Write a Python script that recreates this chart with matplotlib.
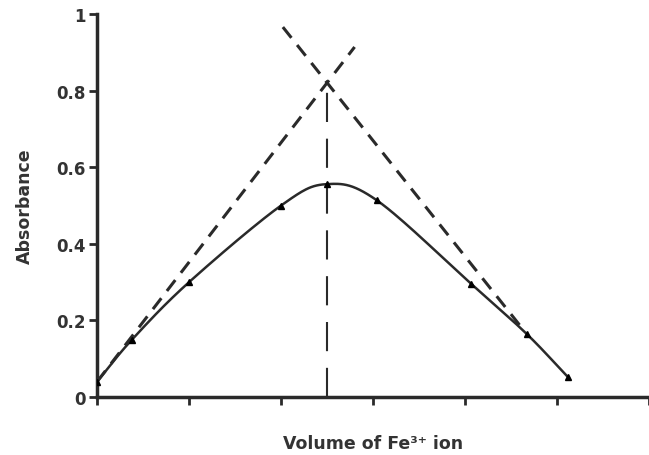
import numpy as np
import matplotlib
matplotlib.use("Agg")
import matplotlib.pyplot as plt

plt.rcParams['font.family'] = ['DejaVu Sans']

# measured absorbance points
volume = [0.0, 0.38, 1.0, 2.0, 2.5, 3.04, 4.07, 4.67, 5.12]
absorbance = [0.04, 0.15, 0.30, 0.50, 0.556, 0.514, 0.295, 0.165, 0.052]

# extrapolated tangent lines (start, end)
left_x = [0.0, 2.8]
left_y = [0.04, 0.914]
right_x = [2.02, 4.62]
right_y = [0.966, 0.18]
eq_x = 2.5
eq_y = 0.82

y_ticks = [0, 0.2, 0.4, 0.6, 0.8, 1]
y_labels = ['0', '0.2', '0.4', '0.6', '0.8', '1']
x_ticks = [0, 1, 2, 3, 4, 5, 6]

ink = '#2a2a2a'


def catmull_rom(xs, ys, n=30):
    # smooth curve through the points, like the spline in the original
    p = np.column_stack([xs, ys])
    p = np.vstack([2 * p[0] - p[1], p, 2 * p[-1] - p[-2]])
    out = []
    for i in range(1, len(p) - 2):
        p0, p1, p2, p3 = p[i - 1], p[i], p[i + 1], p[i + 2]
        t = np.linspace(0, 1, n)[:, None]
        seg = 0.5 * ((2 * p1) + (-p0 + p2) * t + (2 * p0 - 5 * p1 + 4 * p2 - p3) * t ** 2
                     + (-p0 + 3 * p1 - 3 * p2 + p3) * t ** 3)
        out.append(seg)
    out = np.vstack(out)
    return out[:, 0], out[:, 1]


fig = plt.figure(figsize=(6.49, 4.56), dpi=100)
ax = fig.add_axes([0.1495, 0.127, 0.8505, 0.84])

sx, sy = catmull_rom(volume, absorbance)
ax.plot(sx, sy, color=ink, lw=1.8, zorder=3)
ax.plot(volume, absorbance, ls='none', marker='^', ms=5, color='black', zorder=4)

ax.plot(left_x, left_y, color=ink, lw=2.2, ls=(0, (4.5, 3)), zorder=2)
ax.plot(right_x, right_y, color=ink, lw=2.2, ls=(0, (4.5, 3)), zorder=2)
ax.plot([eq_x, eq_x], [0, eq_y], color=ink, lw=1.5, ls=(0, (14, 8)), zorder=2)

ax.set_xlim(0, 5.98)
ax.set_ylim(0, 1)
ax.set_yticks(y_ticks)
ax.set_yticklabels(y_labels)
ax.set_xticks(x_ticks)
ax.set_xticklabels([])

for s in ['top', 'right']:
    ax.spines[s].set_visible(False)
for s in ['left', 'bottom']:
    ax.spines[s].set_linewidth(2.5)
    ax.spines[s].set_color(ink)
    ax.spines[s].set_capstyle('projecting')

ax.tick_params(axis='both', direction='out', length=6, width=2, color=ink)
ax.tick_params(axis='y', labelsize=12, labelcolor='#333333', pad=2)
for lab in ax.get_yticklabels():
    lab.set_fontweight('bold')

ax.set_ylabel('Absorbance', fontsize=12.5, fontweight='bold', color='#333333', labelpad=16)
ax.set_xlabel('Volume of Fe³⁺ ion', fontsize=12.5, fontweight='bold',
              color='#333333', labelpad=17)

fig.savefig('out.png', dpi=100)
